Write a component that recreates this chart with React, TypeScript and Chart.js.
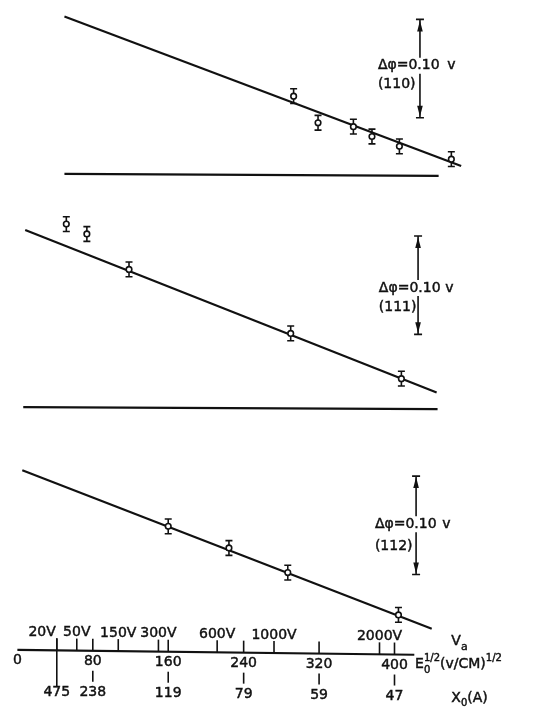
import React, { useEffect, useRef } from 'react';
import { Chart, registerables } from 'chart.js';

Chart.register(...registerables);

// x: E0^(1/2) in (v/cm)^(1/2); y: contact-potential offset in volts (panels stacked on one axis)
const E_110 = [293.0, 318.9, 356.4, 376.1, 405.2, 460.3];
const PHI_110 = [0.623, 0.596, 0.592, 0.582, 0.572, 0.559];
const E_111 = [51.9, 73.7, 118.4, 289.9, 407.3];
const PHI_111 = [0.493, 0.483, 0.447, 0.382, 0.336];
const E_112 = [160.0, 224.4, 286.8, 404.2];
const PHI_112 = [0.186, 0.164, 0.139, 0.096];
const ERR = 0.0075;

const FIT_E_110 = [49.9, 470.7];
const FIT_PHI_110 = [0.704, 0.552];
const FIT_E_111 = [8.3, 444.7];
const FIT_PHI_111 = [0.487, 0.322];
const FIT_E_112 = [5.2, 439.5];
const FIT_PHI_112 = [0.243, 0.082];

const BASE_E_110 = [49.9, 446.8];
const BASE_PHI_110 = [0.544, 0.542];
const BASE_E_111 = [6.2, 445.7];
const BASE_PHI_111 = [0.307, 0.305];

// bottom composite axis
const VA_LABELS = ['20V', '50V', '150V', '300V', '600V', '1000V', '2000V'];
const VA_E = [41.8, 63.0, 107.0, 149.6, 211.9, 272.2, 384.1];
const E_TICKS = [0, 80, 160, 240, 320, 400];
const X0_LABELS = ['475', '238', '119', '79', '59', '47'];
const X0_E = [41.8, 80, 160, 240, 320, 400];
const AXIS_E = [0, 421];
const AXIS_PHI = [0.0605, 0.0555];

// scale bars (Δφ = 0.10 v)
const DELTA_PHI = 0.1;
const BAR_TEXT = 'Δφ=0.10';
const BAR_MILLER = ['(110)', '(111)', '(112)'];
const BAR_E = [427.0, 425.0, 422.9];
const BAR_TOP = [0.701, 0.481, 0.237];
const TEXT_E = [382.4, 383.4, 379.2];
const TEXT_PHI = [0.654, 0.428, 0.188];
const MILLER_PHI = [0.635, 0.408, 0.166];
const UNIT_E = [460.3, 458.2, 455.1];

const X_MIN = -12.5;
const X_MAX = 559;
const Y_MIN = 0;
const Y_MAX = 0.715;

const INK = '#111';
const FONT_FAMILY = '"DejaVu Sans", sans-serif';

const pts = (es: number[], ps: number[]) => es.map((e, i) => ({ x: e, y: ps[i] }));
const bars = (es: number[], ps: number[]) =>
  es.flatMap((e, i) => [
    { x: e, y: ps[i] + ERR },
    { x: e, y: ps[i] - ERR },
    { x: e, y: null as any },
  ]);

const axisPhi = (e: number) =>
  AXIS_PHI[0] + ((AXIS_PHI[1] - AXIS_PHI[0]) * (e - AXIS_E[0])) / (AXIS_E[1] - AXIS_E[0]);

function inkText(ctx: CanvasRenderingContext2D, t: string, x: number, y: number) {
  ctx.fillText(t, x, y);
  ctx.lineWidth = 0.45;
  ctx.strokeText(t, x, y);
}

type Part = { t: string; size: number; dy: number; stack?: boolean };

function drawRich(ctx: CanvasRenderingContext2D, parts: Part[], x: number, y: number) {
  let cx = x;
  let prevW = 0;
  for (const p of parts) {
    ctx.font = `${p.size}px ${FONT_FAMILY}`;
    const w = ctx.measureText(p.t).width;
    const drawX = p.stack ? cx - prevW : cx;
    inkText(ctx, p.t, drawX, y + p.dy);
    if (p.stack) {
      cx = Math.max(cx, drawX + w);
    } else {
      cx = cx + w;
      prevW = w;
    }
  }
}

const whiteBg = {
  id: 'whiteBg',
  beforeDraw(chart: any) {
    const { ctx, width, height } = chart;
    ctx.save();
    ctx.fillStyle = '#fff';
    ctx.fillRect(0, 0, width, height);
    ctx.restore();
  },
};

const axisPlugin = {
  id: 'compositeAxis',
  afterDraw(chart: any) {
    const ctx: CanvasRenderingContext2D = chart.ctx;
    const xs = chart.scales.x;
    const ys = chart.scales.y;
    const px = (e: number) => xs.getPixelForValue(e);
    const py = (e: number) => ys.getPixelForValue(axisPhi(e));
    ctx.save();
    ctx.strokeStyle = INK;
    ctx.fillStyle = INK;
    ctx.lineCap = 'butt';
    // axis line
    ctx.lineWidth = 2.2;
    ctx.beginPath();
    ctx.moveTo(px(AXIS_E[0]), py(AXIS_E[0]));
    ctx.lineTo(px(AXIS_E[1]), py(AXIS_E[1]));
    ctx.stroke();
    // upward ticks
    ctx.lineWidth = 1.6;
    const up = [...VA_E, ...E_TICKS.filter((v) => v > 0)];
    for (const e of up) {
      ctx.beginPath();
      ctx.moveTo(px(e), py(e));
      ctx.lineTo(px(e), py(e) - 12);
      ctx.stroke();
    }
    // X0 ticks
    X0_E.forEach((e) => {
      ctx.beginPath();
      if (E_TICKS.indexOf(e) < 0) {
        ctx.moveTo(px(e), py(e) - 12);
        ctx.lineTo(px(e), py(e) + 36);
      } else {
        ctx.moveTo(px(e), py(e) + 20);
        ctx.lineTo(px(e), py(e) + 31);
      }
      ctx.stroke();
    });
    // labels
    ctx.font = `14px ${FONT_FAMILY}`;
    ctx.textBaseline = 'middle';
    VA_LABELS.forEach((l, i) => {
      const e = VA_E[i];
      if (i === 0) {
        ctx.textAlign = 'right';
        inkText(ctx, l, px(e) - 1, py(e) - 18);
      } else {
        ctx.textAlign = 'center';
        inkText(ctx, l, px(e), py(e) - 18);
      }
    });
    ctx.textAlign = 'center';
    E_TICKS.forEach((e) => {
      inkText(ctx, String(e), px(e), py(e) + 11);
    });
    X0_LABELS.forEach((l, i) => {
      const e = X0_E[i];
      inkText(ctx, l, px(e), py(e) + 42);
    });
    // axis titles
    ctx.textAlign = 'left';
    const endY = py(AXIS_E[1]);
    drawRich(ctx, [
      { t: 'V', size: 14, dy: 0 },
      { t: 'a', size: 11, dy: 5 },
    ], px(460.3), endY - 13);
    drawRich(ctx, [
      { t: 'E', size: 14, dy: 0 },
      { t: '1/2', size: 10, dy: -6 },
      { t: '0', size: 10, dy: 6, stack: true },
      { t: '(v/CM)', size: 14, dy: 0 },
      { t: '1/2', size: 10, dy: -6 },
    ], px(421.8), endY + 10);
    drawRich(ctx, [
      { t: 'X', size: 14, dy: 0 },
      { t: '0', size: 10, dy: 5 },
      { t: '(A)', size: 14, dy: 0 },
    ], px(460.3), endY + 44);
    ctx.restore();
  },
};

const scaleBarPlugin = {
  id: 'scaleBars',
  afterDraw(chart: any) {
    const ctx: CanvasRenderingContext2D = chart.ctx;
    const xs = chart.scales.x;
    const ys = chart.scales.y;
    ctx.save();
    ctx.strokeStyle = INK;
    ctx.fillStyle = INK;
    BAR_E.forEach((be, i) => {
      const x = xs.getPixelForValue(be);
      const yTop = ys.getPixelForValue(BAR_TOP[i]);
      const yBot = ys.getPixelForValue(BAR_TOP[i] - DELTA_PHI);
      const yText = ys.getPixelForValue(TEXT_PHI[i]);
      ctx.lineWidth = 1.6;
      ctx.beginPath();
      ctx.moveTo(x - 4, yTop);
      ctx.lineTo(x + 4, yTop);
      ctx.moveTo(x - 4, yBot);
      ctx.lineTo(x + 4, yBot);
      ctx.moveTo(x, yTop);
      ctx.lineTo(x, yText - 8);
      ctx.moveTo(x, yText + 8);
      ctx.lineTo(x, yBot);
      ctx.stroke();
      // arrowheads
      ctx.beginPath();
      ctx.moveTo(x, yTop + 1);
      ctx.lineTo(x - 2.8, yTop + 12);
      ctx.lineTo(x + 2.8, yTop + 12);
      ctx.closePath();
      ctx.fill();
      ctx.beginPath();
      ctx.moveTo(x, yBot - 1);
      ctx.lineTo(x - 2.8, yBot - 12);
      ctx.lineTo(x + 2.8, yBot - 12);
      ctx.closePath();
      ctx.fill();
      // texts
      ctx.font = `14px ${FONT_FAMILY}`;
      ctx.textBaseline = 'middle';
      ctx.textAlign = 'left';
      inkText(ctx, BAR_TEXT, xs.getPixelForValue(TEXT_E[i]), yText);
      ctx.textAlign = 'center';
      inkText(ctx, 'v', xs.getPixelForValue(UNIT_E[i]), yText);
      ctx.textAlign = 'left';
      inkText(ctx, BAR_MILLER[i], xs.getPixelForValue(TEXT_E[i]), ys.getPixelForValue(MILLER_PHI[i]));
    });
    ctx.restore();
  },
};

const lineDs = (es: number[], ps: number[]) => ({
  type: 'line' as const,
  data: pts(es, ps),
  borderColor: INK,
  borderWidth: 2.2,
  pointRadius: 0,
  order: 2,
});

const markerDs = (es: number[], ps: number[]) => ({
  type: 'line' as const,
  data: pts(es, ps),
  showLine: false,
  pointStyle: 'circle' as const,
  pointRadius: 2.8,
  pointBorderWidth: 1.6,
  pointBackgroundColor: '#fff',
  pointBorderColor: INK,
  order: 0,
});

const errDs = (es: number[], ps: number[]) => ({
  type: 'line' as const,
  data: bars(es, ps),
  borderColor: INK,
  borderWidth: 1.6,
  spanGaps: false,
  pointStyle: 'line' as const,
  pointRadius: 3.5,
  pointBorderWidth: 1.6,
  pointBorderColor: INK,
  order: 1,
});

export default function App() {
  const ref = useRef<HTMLCanvasElement>(null);
  useEffect(() => {
    const canvas = ref.current;
    if (!canvas) return;
    const chart = new Chart(canvas, {
      type: 'line',
      data: {
        datasets: [
          markerDs(E_110, PHI_110),
          markerDs(E_111, PHI_111),
          markerDs(E_112, PHI_112),
          errDs(E_110, PHI_110),
          errDs(E_111, PHI_111),
          errDs(E_112, PHI_112),
          lineDs(FIT_E_110, FIT_PHI_110),
          lineDs(FIT_E_111, FIT_PHI_111),
          lineDs(FIT_E_112, FIT_PHI_112),
          lineDs(BASE_E_110, BASE_PHI_110),
          lineDs(BASE_E_111, BASE_PHI_111),
        ] as any,
      },
      options: {
        animation: false,
        responsive: false,
        events: [],
        layout: { padding: 0 },
        plugins: { legend: { display: false }, tooltip: { enabled: false } },
        scales: {
          x: { type: 'linear', min: X_MIN, max: X_MAX, display: false },
          y: { type: 'linear', min: Y_MIN, max: Y_MAX, display: false },
        },
      },
      plugins: [whiteBg, axisPlugin, scaleBarPlugin],
    });
    return () => chart.destroy();
  }, []);
  return (
    <div style={{ position: 'fixed', left: 0, top: 0, width: 550, height: 715, background: '#fff' }}>
      <canvas ref={ref} width={550} height={715} style={{ display: 'block' }} />
    </div>
  );
}
